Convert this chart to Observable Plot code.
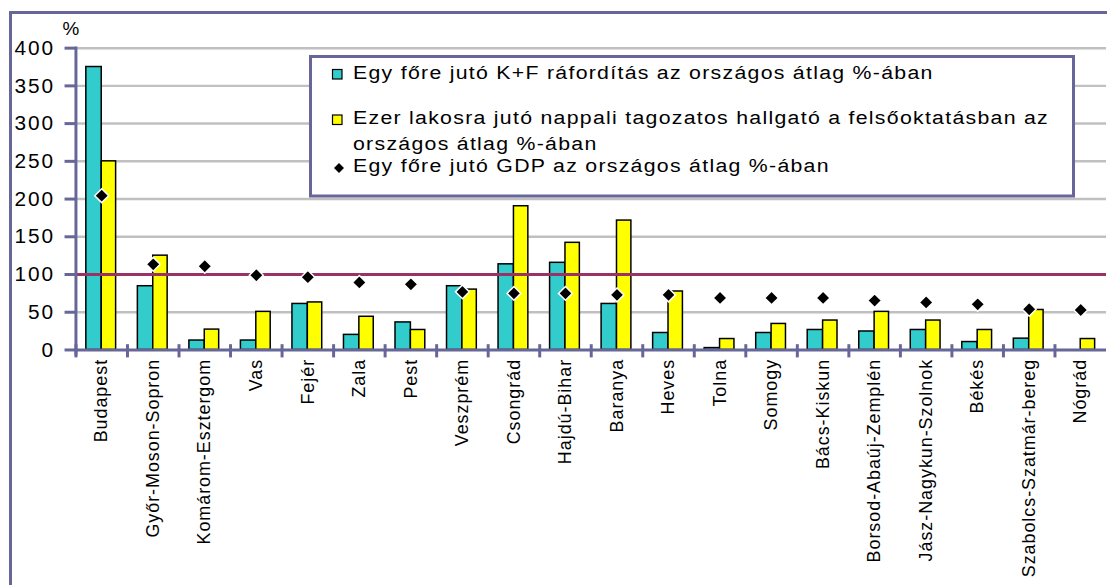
<!DOCTYPE html>
<html>
<head>
<meta charset="utf-8">
<script src="https://cdn.jsdelivr.net/npm/d3@7"></script>
<script src="https://cdn.jsdelivr.net/npm/@observablehq/plot@0.6"></script>
<style>
  html, body { margin: 0; padding: 0; background: #fff; overflow: hidden; }
  #wrap { position: relative; width: 1107px; height: 585px; overflow: hidden; background: #fff; }
  #wrap > svg { position: absolute; left: 0; top: 0; }
  g[aria-label="y-axis tick label"] text { letter-spacing: 2px; }
  g[aria-label="x-axis tick label"] text { letter-spacing: 1px; }
  .legend text { font-family: 'Liberation Sans', Arial, sans-serif; font-size: 19px; letter-spacing: 1.15px; fill: #000; }
</style>
</head>
<body>
<div id="wrap"></div>
<script>
// ---- data ----
const regions = ["Budapest","Győr-Moson-Sopron","Komárom-Esztergom","Vas","Fejér","Zala","Pest","Veszprém","Csongrád","Hajdú-Bihar","Baranya","Heves","Tolna","Somogy","Bács-Kiskun","Borsod-Abaúj-Zemplén","Jász-Nagykun-Szolnok","Békés","Szabolcs-Szatmár-bereg","Nógrád"];
const kfSpending = [375, 84.5, 12.5, 12.5, 61, 20, 36.5, 84.5, 113.5, 115.5, 61, 22.5, 2.5, 22.5, 26.5, 24.5, 26.5, 10.5, 15, 0];
const students = [250, 125, 27, 50.5, 63, 44, 26.5, 80, 190.5, 142, 171.5, 77.5, 14.5, 34.5, 39, 50.5, 39, 26.5, 53, 14.5];
const gdp = [204.5, 113.5, 111, 99, 96.5, 89.5, 87, 77, 75, 75, 73, 73, 69, 69, 69, 65.5, 63, 60.5, 54, 53];
const yTicks = [0, 50, 100, 150, 200, 250, 300, 350, 400];
const average = [100];
const seriesNames = [
  "Egy főre jutó K+F ráfordítás az országos átlag %-ában",
  "Ezer lakosra jutó nappali tagozatos hallgató a felsőoktatásban az",
  "országos átlag %-ában",
  "Egy főre jutó GDP az országos átlag %-ában"
];
const unitLabel = ["%"];

// ---- layout ----
const W = 1115, H = 585, mL = 76, mR = 1, mT = 48, mB = 233;
const bw = (W - mL - mR) / regions.length;
const barW = 15;
const axisColor = "#666699";
const teal = "#33CCCC", yellow = "#FFFF00";

const rows = regions.map((r, i) => ({region: r, kf: kfSpending[i], st: students[i], gdp: gdp[i]}));

const chart = Plot.plot({
  width: W, height: H,
  marginLeft: mL, marginRight: mR, marginTop: mT, marginBottom: mB,
  style: {fontFamily: "'Liberation Sans', Arial, sans-serif", background: "transparent", overflow: "visible", color: "#000"},
  x: {type: "band", domain: regions, padding: 0, round: false, label: null},
  y: {domain: [0, 400], label: null},
  marks: [
    Plot.ruleY(yTicks.filter(d => d > 0), {stroke: "#c0c0c0", strokeWidth: 2.5}),
    Plot.barY(rows, {x: "region", y: "kf", fill: teal, stroke: "#000", strokeWidth: 1.5,
      insetLeft: bw / 2 - barW - 0.5, insetRight: bw / 2}),
    Plot.barY(rows, {x: "region", y: "st", fill: yellow, stroke: "#000", strokeWidth: 1.5,
      insetLeft: bw / 2, insetRight: bw / 2 - barW + 0.5}),
    Plot.ruleY(average, {stroke: "#993366", strokeWidth: 3}),
    Plot.ruleY([0], {stroke: axisColor, strokeWidth: 3}),
    Plot.ruleX(regions, {x: d => d, y1: -10.5, y2: 7, dx: -bw / 2, stroke: axisColor, strokeWidth: 3}),
    Plot.ruleX([regions[0]], {x: d => d, y1: -8, y2: 401.5, dx: -bw / 2, stroke: axisColor, strokeWidth: 3}),
    Plot.dot(rows, {x: "region", y: "gdp", symbol: "diamond2", r: 6.3, fill: "#000", stroke: "#fff", strokeWidth: 1.5}),
    Plot.axisY({ticks: yTicks, tickSize: 11, tickPadding: 10, stroke: axisColor, strokeWidth: 3, fill: "#000", fontSize: 21, label: null, tickFormat: d => String(d)}),
    Plot.axisX({tickRotate: -90, tickSize: 0, tickPadding: 9, fontSize: 18, fill: "#000", label: null}),
    Plot.text(unitLabel, {text: d => d, frameAnchor: "top-left", dx: -5, dy: -19, textAnchor: "middle", lineAnchor: "middle", fontSize: 19, fill: "#000"})
  ]
});
document.getElementById("wrap").appendChild(chart);

// ---- frame + legend overlay ----
const ov = d3.select("#wrap").append("svg")
  .attr("width", 1107).attr("height", 585)
  .style("pointer-events", "none");
ov.append("path").attr("d", "M10.5,590V12.5H1110").attr("fill", "none")
  .attr("stroke", axisColor).attr("stroke-width", 3);
const lg = ov.append("g").attr("class", "legend");
lg.append("rect").attr("x", 310.5).attr("y", 56.5).attr("width", 763).attr("height", 139.5)
  .attr("fill", "#fff").attr("stroke", axisColor).attr("stroke-width", 3);
lg.append("rect").attr("x", 332.5).attr("y", 69.5).attr("width", 9.5).attr("height", 9.5)
  .attr("fill", teal).attr("stroke", "#000").attr("stroke-width", 1.2);
lg.append("rect").attr("x", 332.5).attr("y", 115).attr("width", 9.5).attr("height", 9.5)
  .attr("fill", yellow).attr("stroke", "#000").attr("stroke-width", 1.2);
lg.append("path")
  .attr("d", d3.symbol(d3.symbolSquare, 50)()).attr("transform", "translate(339,168) rotate(45)")
  .attr("fill", "#000");
const baselines = [78.5, 124, 150, 172];
seriesNames.forEach((t, i) => {
  lg.append("text").attr("transform", `translate(353,${baselines[i]}) scale(1.12,1)`).text(t);
});
</script>
</body>
</html>
